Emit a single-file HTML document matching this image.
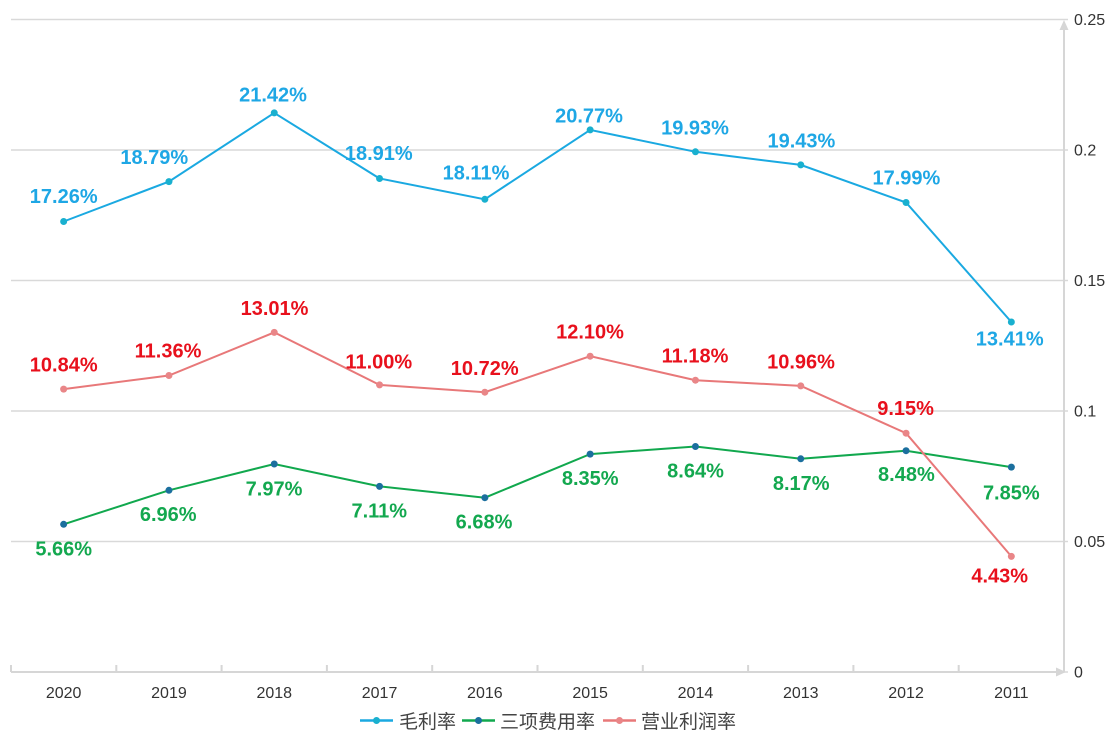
<!DOCTYPE html>
<html>
<head>
<meta charset="utf-8">
<style>
html,body{margin:0;padding:0;background:#fff;}
svg{display:block;}
.lb{font-family:"Liberation Sans","Noto Sans CJK SC",sans-serif;font-weight:bold;font-size:20px;text-anchor:middle;}
.ax{font-family:"Liberation Sans","Noto Sans CJK SC",sans-serif;font-size:16px;fill:#333;}
.lg{font-family:"Liberation Sans","Noto Sans CJK SC",sans-serif;font-size:19px;fill:#444;}
</style>
</head>
<body>
<svg width="1114" height="738" viewBox="0 0 1114 738" xmlns="http://www.w3.org/2000/svg">
<!-- grid lines -->
<g stroke="#d9d9d9" stroke-width="1.5">
<line x1="11" y1="19.5" x2="1068" y2="19.5"/>
<line x1="11" y1="150" x2="1068" y2="150"/>
<line x1="11" y1="280.5" x2="1068" y2="280.5"/>
<line x1="11" y1="411" x2="1068" y2="411"/>
<line x1="11" y1="541.5" x2="1068" y2="541.5"/>
<line x1="1064" y1="672" x2="1068" y2="672"/>
</g>
<!-- x axis -->
<g stroke="#d6d6d6" stroke-width="2" fill="none">
<line x1="11" y1="672" x2="1060" y2="672"/>
<line x1="1064" y1="672" x2="1064" y2="26"/>
<line x1="11" y1="665" x2="11" y2="672"/>
<line x1="116.3" y1="665" x2="116.3" y2="672"/>
<line x1="221.6" y1="665" x2="221.6" y2="672"/>
<line x1="326.9" y1="665" x2="326.9" y2="672"/>
<line x1="432.2" y1="665" x2="432.2" y2="672"/>
<line x1="537.5" y1="665" x2="537.5" y2="672"/>
<line x1="642.8" y1="665" x2="642.8" y2="672"/>
<line x1="748.1" y1="665" x2="748.1" y2="672"/>
<line x1="853.4" y1="665" x2="853.4" y2="672"/>
<line x1="958.7" y1="665" x2="958.7" y2="672"/>
</g>
<polygon points="1056,667.5 1066,672 1056,676.5" fill="#d6d6d6"/>
<polygon points="1059.5,30 1064,20 1068.5,30" fill="#d6d6d6"/>
<!-- y labels -->
<g class="ax">
<text x="1074" y="25">0.25</text>
<text x="1074" y="155.5">0.2</text>
<text x="1074" y="286">0.15</text>
<text x="1074" y="416.5">0.1</text>
<text x="1074" y="547">0.05</text>
<text x="1074" y="677.5">0</text>
</g>
<!-- x labels -->
<g class="ax" text-anchor="middle">
<text x="63.65" y="698">2020</text>
<text x="168.95" y="698">2019</text>
<text x="274.25" y="698">2018</text>
<text x="379.55" y="698">2017</text>
<text x="484.85" y="698">2016</text>
<text x="590.15" y="698">2015</text>
<text x="695.45" y="698">2014</text>
<text x="800.75" y="698">2013</text>
<text x="906.05" y="698">2012</text>
<text x="1011.35" y="698">2011</text>
</g>
<!-- series: green -->
<polyline fill="none" stroke="#11a84e" stroke-width="2" points="63.65,524.3 168.95,490.3 274.25,464 379.55,486.4 484.85,497.7 590.15,454.1 695.45,446.5 800.75,458.8 906.05,450.7 1011.35,467.1"/>
<g fill="#1b6f9e">
<circle cx="63.65" cy="524.3" r="3.5"/><circle cx="168.95" cy="490.3" r="3.5"/><circle cx="274.25" cy="464" r="3.5"/><circle cx="379.55" cy="486.4" r="3.5"/><circle cx="484.85" cy="497.7" r="3.5"/><circle cx="590.15" cy="454.1" r="3.5"/><circle cx="695.45" cy="446.5" r="3.5"/><circle cx="800.75" cy="458.8" r="3.5"/><circle cx="906.05" cy="450.7" r="3.5"/><circle cx="1011.35" cy="467.1" r="3.5"/>
</g>
<!-- series: red -->
<polyline fill="none" stroke="#e87879" stroke-width="2" points="63.65,389.1 168.95,375.5 274.25,332.4 379.55,384.9 484.85,392.2 590.15,356.2 695.45,380.2 800.75,385.9 906.05,433.2 1011.35,556.4"/>
<g fill="#e98688">
<circle cx="63.65" cy="389.1" r="3.5"/><circle cx="168.95" cy="375.5" r="3.5"/><circle cx="274.25" cy="332.4" r="3.5"/><circle cx="379.55" cy="384.9" r="3.5"/><circle cx="484.85" cy="392.2" r="3.5"/><circle cx="590.15" cy="356.2" r="3.5"/><circle cx="695.45" cy="380.2" r="3.5"/><circle cx="800.75" cy="385.9" r="3.5"/><circle cx="906.05" cy="433.2" r="3.5"/><circle cx="1011.35" cy="556.4" r="3.5"/>
</g>
<!-- series: blue -->
<polyline fill="none" stroke="#1aa9e1" stroke-width="2" points="63.65,221.5 168.95,181.6 274.25,112.9 379.55,178.5 484.85,199.3 590.15,129.9 695.45,151.8 800.75,164.9 906.05,202.5 1011.35,322"/>
<g fill="#19b0cf">
<circle cx="63.65" cy="221.5" r="3.5"/><circle cx="168.95" cy="181.6" r="3.5"/><circle cx="274.25" cy="112.9" r="3.5"/><circle cx="379.55" cy="178.5" r="3.5"/><circle cx="484.85" cy="199.3" r="3.5"/><circle cx="590.15" cy="129.9" r="3.5"/><circle cx="695.45" cy="151.8" r="3.5"/><circle cx="800.75" cy="164.9" r="3.5"/><circle cx="906.05" cy="202.5" r="3.5"/><circle cx="1011.35" cy="322" r="3.5"/>
</g>
<!-- labels blue -->
<g class="lb" fill="#1ea7e5">
<text x="63.7" y="203">17.26%</text>
<text x="154.3" y="164">18.79%</text>
<text x="273" y="101.7">21.42%</text>
<text x="378.8" y="160">18.91%</text>
<text x="476" y="179.3">18.11%</text>
<text x="589" y="122.3">20.77%</text>
<text x="695" y="134.3">19.93%</text>
<text x="801.4" y="147.3">19.43%</text>
<text x="906.4" y="184.3">17.99%</text>
<text x="1009.7" y="345.7">13.41%</text>
</g>
<!-- labels red -->
<g class="lb" fill="#e8101c">
<text x="63.7" y="371.7">10.84%</text>
<text x="168" y="357.3">11.36%</text>
<text x="274.5" y="315">13.01%</text>
<text x="378.8" y="368.3">11.00%</text>
<text x="484.7" y="375">10.72%</text>
<text x="590" y="338.3">12.10%</text>
<text x="695" y="362.3">11.18%</text>
<text x="801" y="368.3">10.96%</text>
<text x="905.6" y="415">9.15%</text>
<text x="999.7" y="582.7">4.43%</text>
</g>
<!-- labels green -->
<g class="lb" fill="#13a84f">
<text x="63.7" y="555.7">5.66%</text>
<text x="168.2" y="521">6.96%</text>
<text x="274" y="495.7">7.97%</text>
<text x="379.3" y="517.7">7.11%</text>
<text x="484" y="528.3">6.68%</text>
<text x="590.2" y="485">8.35%</text>
<text x="695.5" y="477.3">8.64%</text>
<text x="801.2" y="490">8.17%</text>
<text x="906.4" y="481">8.48%</text>
<text x="1011.3" y="499.3">7.85%</text>
</g>
<!-- legend -->
<g stroke-width="2.5">
<line x1="360" y1="720.5" x2="393" y2="720.5" stroke="#1aa9e1"/>
<line x1="462" y1="720.5" x2="495" y2="720.5" stroke="#11a84e"/>
<line x1="603" y1="720.5" x2="636" y2="720.5" stroke="#e87879"/>
</g>
<circle cx="376.5" cy="720.5" r="3.5" fill="#19b0cf"/>
<circle cx="478.5" cy="720.5" r="3.5" fill="#1b6f9e"/>
<circle cx="619.5" cy="720.5" r="3.5" fill="#e98688"/>
<g class="lg">
<text x="399" y="728">毛利率</text>
<text x="500" y="728">三项费用率</text>
<text x="641" y="728">营业利润率</text>
</g>
</svg>
</body>
</html>
